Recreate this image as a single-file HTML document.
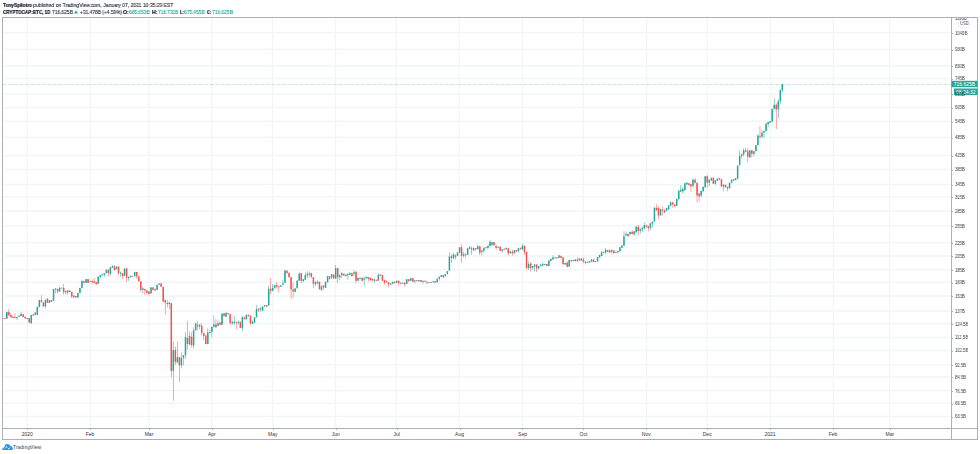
<!DOCTYPE html>
<html><head><meta charset="utf-8"><style>
html,body{margin:0;padding:0;background:#fff;width:980px;height:454px;overflow:hidden;position:relative}
svg text{font-family:"Liberation Sans",sans-serif}
.hs{will-change:transform}
.hs{position:absolute;font-family:"Liberation Sans",sans-serif;font-size:5.2px;white-space:nowrap;line-height:7px;transform-origin:0 0}
.t{color:#26a69a}
.al{position:absolute;font-family:"Liberation Sans",sans-serif;font-size:4.7px;line-height:5px;color:#363a45;white-space:nowrap;transform:scaleX(0.9);transform-origin:0 0;will-change:transform}
.usd{position:absolute;left:959.6px;top:20.5px;font-family:"Liberation Sans",sans-serif;font-size:4.8px;line-height:5px;color:#4a4e57;transform:scaleX(0.85);transform-origin:0 0;will-change:transform}
.logo{position:absolute;left:2px;top:443px;font-family:"Liberation Sans",sans-serif;font-size:6px;color:#50535e}
</style></head><body>
<svg width="980" height="454" viewBox="0 0 980 454" style="position:absolute;left:0;top:0"><line x1="27.5" y1="17.5" x2="27.5" y2="428.5" stroke="#f1f5f8" stroke-width="1.25"/><line x1="90.5" y1="17.5" x2="90.5" y2="428.5" stroke="#f1f5f8" stroke-width="1.25"/><line x1="148.75" y1="17.5" x2="148.75" y2="428.5" stroke="#f1f5f8" stroke-width="1.25"/><line x1="211.75" y1="17.5" x2="211.75" y2="428.5" stroke="#f1f5f8" stroke-width="1.25"/><line x1="272.5" y1="17.5" x2="272.5" y2="428.5" stroke="#f1f5f8" stroke-width="1.25"/><line x1="335.5" y1="17.5" x2="335.5" y2="428.5" stroke="#f1f5f8" stroke-width="1.25"/><line x1="396.25" y1="17.5" x2="396.25" y2="428.5" stroke="#f1f5f8" stroke-width="1.25"/><line x1="459.5" y1="17.5" x2="459.5" y2="428.5" stroke="#f1f5f8" stroke-width="1.25"/><line x1="522.5" y1="17.5" x2="522.5" y2="428.5" stroke="#f1f5f8" stroke-width="1.25"/><line x1="583.25" y1="17.5" x2="583.25" y2="428.5" stroke="#f1f5f8" stroke-width="1.25"/><line x1="646.75" y1="17.5" x2="646.75" y2="428.5" stroke="#f1f5f8" stroke-width="1.25"/><line x1="707.5" y1="17.5" x2="707.5" y2="428.5" stroke="#f1f5f8" stroke-width="1.25"/><line x1="770.5" y1="17.5" x2="770.5" y2="428.5" stroke="#f1f5f8" stroke-width="1.25"/><line x1="833.25" y1="17.5" x2="833.25" y2="428.5" stroke="#f1f5f8" stroke-width="1.25"/><line x1="889.5" y1="17.5" x2="889.5" y2="428.5" stroke="#f1f5f8" stroke-width="1.25"/><line x1="2.5" y1="32.80" x2="951.5" y2="32.80" stroke="#f1f5f8" stroke-width="1.5"/><line x1="2.5" y1="49.30" x2="951.5" y2="49.30" stroke="#f1f5f8" stroke-width="1.5"/><line x1="2.5" y1="65.90" x2="951.5" y2="65.90" stroke="#f1f5f8" stroke-width="1.5"/><line x1="2.5" y1="78.50" x2="951.5" y2="78.50" stroke="#f1f5f8" stroke-width="1.5"/><line x1="2.5" y1="94.20" x2="951.5" y2="94.20" stroke="#f1f5f8" stroke-width="1.5"/><line x1="2.5" y1="107.60" x2="951.5" y2="107.60" stroke="#f1f5f8" stroke-width="1.5"/><line x1="2.5" y1="121.30" x2="951.5" y2="121.30" stroke="#f1f5f8" stroke-width="1.5"/><line x1="2.5" y1="137.30" x2="951.5" y2="137.30" stroke="#f1f5f8" stroke-width="1.5"/><line x1="2.5" y1="155.50" x2="951.5" y2="155.50" stroke="#f1f5f8" stroke-width="1.5"/><line x1="2.5" y1="169.60" x2="951.5" y2="169.60" stroke="#f1f5f8" stroke-width="1.5"/><line x1="2.5" y1="184.40" x2="951.5" y2="184.40" stroke="#f1f5f8" stroke-width="1.5"/><line x1="2.5" y1="196.80" x2="951.5" y2="196.80" stroke="#f1f5f8" stroke-width="1.5"/><line x1="2.5" y1="210.90" x2="951.5" y2="210.90" stroke="#f1f5f8" stroke-width="1.5"/><line x1="2.5" y1="225.70" x2="951.5" y2="225.70" stroke="#f1f5f8" stroke-width="1.5"/><line x1="2.5" y1="242.70" x2="951.5" y2="242.70" stroke="#f1f5f8" stroke-width="1.5"/><line x1="2.5" y1="255.90" x2="951.5" y2="255.90" stroke="#f1f5f8" stroke-width="1.5"/><line x1="2.5" y1="269.80" x2="951.5" y2="269.80" stroke="#f1f5f8" stroke-width="1.5"/><line x1="2.5" y1="282.30" x2="951.5" y2="282.30" stroke="#f1f5f8" stroke-width="1.5"/><line x1="2.5" y1="296.10" x2="951.5" y2="296.10" stroke="#f1f5f8" stroke-width="1.5"/><line x1="2.5" y1="310.90" x2="951.5" y2="310.90" stroke="#f1f5f8" stroke-width="1.5"/><line x1="2.5" y1="323.80" x2="951.5" y2="323.80" stroke="#f1f5f8" stroke-width="1.5"/><line x1="2.5" y1="337.50" x2="951.5" y2="337.50" stroke="#f1f5f8" stroke-width="1.5"/><line x1="2.5" y1="350.60" x2="951.5" y2="350.60" stroke="#f1f5f8" stroke-width="1.5"/><line x1="2.5" y1="364.70" x2="951.5" y2="364.70" stroke="#f1f5f8" stroke-width="1.5"/><line x1="2.5" y1="377.10" x2="951.5" y2="377.10" stroke="#f1f5f8" stroke-width="1.5"/><line x1="2.5" y1="390.80" x2="951.5" y2="390.80" stroke="#f1f5f8" stroke-width="1.5"/><line x1="2.5" y1="403.20" x2="951.5" y2="403.20" stroke="#f1f5f8" stroke-width="1.5"/><line x1="2.5" y1="416.40" x2="951.5" y2="416.40" stroke="#f1f5f8" stroke-width="1.5"/><rect x="2.55" y="318.11" width="0.5" height="0.50" fill="#26a69a"/><rect x="2.05" y="318.11" width="1.5" height="0.80" fill="#26a69a"/><rect x="4.58" y="318.01" width="0.5" height="0.71" fill="#ef5350"/><rect x="4.08" y="318.01" width="1.5" height="0.80" fill="#ef5350"/><rect x="6.61" y="311.92" width="0.5" height="6.79" fill="#26a69a"/><rect x="6.11" y="311.92" width="1.5" height="6.79" fill="#26a69a"/><rect x="8.64" y="308.88" width="0.5" height="6.59" fill="#ef5350"/><rect x="8.14" y="311.92" width="1.5" height="3.55" fill="#ef5350"/><rect x="10.67" y="312.94" width="0.5" height="5.07" fill="#ef5350"/><rect x="10.17" y="314.97" width="1.5" height="2.03" fill="#ef5350"/><rect x="12.70" y="316.49" width="0.5" height="1.52" fill="#ef5350"/><rect x="12.20" y="316.49" width="1.5" height="1.52" fill="#ef5350"/><rect x="14.73" y="312.94" width="0.5" height="5.57" fill="#ef5350"/><rect x="14.23" y="316.99" width="1.5" height="0.80" fill="#ef5350"/><rect x="16.76" y="316.99" width="0.5" height="3.04" fill="#26a69a"/><rect x="16.26" y="316.99" width="1.5" height="1.01" fill="#26a69a"/><rect x="18.79" y="315.47" width="0.5" height="1.22" fill="#26a69a"/><rect x="18.29" y="315.47" width="1.5" height="1.22" fill="#26a69a"/><rect x="20.82" y="311.92" width="0.5" height="4.05" fill="#26a69a"/><rect x="20.32" y="313.95" width="1.5" height="2.03" fill="#26a69a"/><rect x="22.85" y="314.26" width="0.5" height="2.74" fill="#ef5350"/><rect x="22.35" y="314.26" width="1.5" height="2.74" fill="#ef5350"/><rect x="24.88" y="316.69" width="0.5" height="1.82" fill="#ef5350"/><rect x="24.38" y="316.69" width="1.5" height="1.82" fill="#ef5350"/><rect x="26.91" y="318.01" width="0.5" height="1.01" fill="#26a69a"/><rect x="26.41" y="318.01" width="1.5" height="1.01" fill="#26a69a"/><rect x="28.94" y="318.01" width="0.5" height="4.56" fill="#ef5350"/><rect x="28.44" y="318.01" width="1.5" height="4.56" fill="#ef5350"/><rect x="30.96" y="314.97" width="0.5" height="9.12" fill="#26a69a"/><rect x="30.46" y="314.97" width="1.5" height="8.11" fill="#26a69a"/><rect x="33.00" y="314.46" width="0.5" height="1.22" fill="#26a69a"/><rect x="32.50" y="314.46" width="1.5" height="1.22" fill="#26a69a"/><rect x="35.02" y="312.43" width="0.5" height="2.53" fill="#ef5350"/><rect x="34.52" y="312.43" width="1.5" height="2.53" fill="#ef5350"/><rect x="37.05" y="306.86" width="0.5" height="8.11" fill="#26a69a"/><rect x="36.55" y="306.86" width="1.5" height="8.11" fill="#26a69a"/><rect x="39.09" y="300.07" width="0.5" height="7.09" fill="#26a69a"/><rect x="38.59" y="300.07" width="1.5" height="7.09" fill="#26a69a"/><rect x="41.12" y="295.20" width="0.5" height="7.09" fill="#ef5350"/><rect x="40.62" y="300.27" width="1.5" height="2.03" fill="#ef5350"/><rect x="43.14" y="302.30" width="0.5" height="4.26" fill="#ef5350"/><rect x="42.64" y="302.30" width="1.5" height="4.26" fill="#ef5350"/><rect x="45.17" y="299.76" width="0.5" height="8.61" fill="#26a69a"/><rect x="44.67" y="299.76" width="1.5" height="6.59" fill="#26a69a"/><rect x="47.20" y="298.55" width="0.5" height="4.26" fill="#ef5350"/><rect x="46.70" y="298.55" width="1.5" height="4.26" fill="#ef5350"/><rect x="49.23" y="300.07" width="0.5" height="2.74" fill="#26a69a"/><rect x="48.73" y="300.07" width="1.5" height="2.74" fill="#26a69a"/><rect x="51.27" y="300.07" width="0.5" height="1.72" fill="#ef5350"/><rect x="50.77" y="300.07" width="1.5" height="1.72" fill="#ef5350"/><rect x="53.30" y="288.92" width="0.5" height="11.86" fill="#26a69a"/><rect x="52.80" y="288.92" width="1.5" height="11.86" fill="#26a69a"/><rect x="55.33" y="288.40" width="0.5" height="5.07" fill="#26a69a"/><rect x="54.83" y="288.40" width="1.5" height="1.01" fill="#26a69a"/><rect x="57.35" y="288.91" width="0.5" height="4.56" fill="#ef5350"/><rect x="56.85" y="288.91" width="1.5" height="2.53" fill="#ef5350"/><rect x="59.38" y="286.88" width="0.5" height="5.07" fill="#26a69a"/><rect x="58.88" y="287.90" width="1.5" height="3.55" fill="#26a69a"/><rect x="61.41" y="287.69" width="0.5" height="0.71" fill="#26a69a"/><rect x="60.91" y="287.69" width="1.5" height="0.80" fill="#26a69a"/><rect x="63.45" y="284.15" width="0.5" height="10.34" fill="#ef5350"/><rect x="62.95" y="287.90" width="1.5" height="4.05" fill="#ef5350"/><rect x="65.47" y="290.43" width="0.5" height="4.05" fill="#ef5350"/><rect x="64.97" y="290.94" width="1.5" height="1.52" fill="#ef5350"/><rect x="67.50" y="290.43" width="0.5" height="4.05" fill="#26a69a"/><rect x="67.00" y="290.43" width="1.5" height="2.03" fill="#26a69a"/><rect x="69.53" y="290.43" width="0.5" height="1.52" fill="#ef5350"/><rect x="69.03" y="290.43" width="1.5" height="1.52" fill="#ef5350"/><rect x="71.56" y="291.95" width="0.5" height="6.08" fill="#ef5350"/><rect x="71.06" y="291.95" width="1.5" height="4.56" fill="#ef5350"/><rect x="73.59" y="295.50" width="0.5" height="3.04" fill="#26a69a"/><rect x="73.09" y="295.50" width="1.5" height="1.52" fill="#26a69a"/><rect x="75.62" y="296.01" width="0.5" height="1.52" fill="#ef5350"/><rect x="75.12" y="296.01" width="1.5" height="1.52" fill="#ef5350"/><rect x="77.66" y="292.97" width="0.5" height="4.56" fill="#26a69a"/><rect x="77.16" y="292.97" width="1.5" height="4.56" fill="#26a69a"/><rect x="79.69" y="287.90" width="0.5" height="5.07" fill="#26a69a"/><rect x="79.19" y="287.90" width="1.5" height="5.07" fill="#26a69a"/><rect x="81.72" y="280.80" width="0.5" height="7.09" fill="#26a69a"/><rect x="81.22" y="280.80" width="1.5" height="7.09" fill="#26a69a"/><rect x="83.75" y="281.11" width="0.5" height="1.72" fill="#ef5350"/><rect x="83.25" y="281.11" width="1.5" height="1.72" fill="#ef5350"/><rect x="85.78" y="279.08" width="0.5" height="3.75" fill="#26a69a"/><rect x="85.28" y="279.08" width="1.5" height="3.75" fill="#26a69a"/><rect x="87.80" y="279.08" width="0.5" height="4.26" fill="#ef5350"/><rect x="87.30" y="279.08" width="1.5" height="3.75" fill="#ef5350"/><rect x="89.83" y="281.11" width="0.5" height="0.71" fill="#26a69a"/><rect x="89.33" y="281.11" width="1.5" height="0.80" fill="#26a69a"/><rect x="91.86" y="279.28" width="0.5" height="4.56" fill="#ef5350"/><rect x="91.36" y="281.11" width="1.5" height="1.22" fill="#ef5350"/><rect x="93.89" y="278.07" width="0.5" height="5.27" fill="#ef5350"/><rect x="93.39" y="281.31" width="1.5" height="1.52" fill="#ef5350"/><rect x="95.92" y="282.12" width="0.5" height="3.24" fill="#ef5350"/><rect x="95.42" y="282.12" width="1.5" height="2.03" fill="#ef5350"/><rect x="97.95" y="276.75" width="0.5" height="7.09" fill="#26a69a"/><rect x="97.45" y="276.75" width="1.5" height="7.09" fill="#26a69a"/><rect x="99.98" y="274.72" width="0.5" height="3.55" fill="#26a69a"/><rect x="99.48" y="275.23" width="1.5" height="2.03" fill="#26a69a"/><rect x="102.02" y="274.22" width="0.5" height="1.22" fill="#26a69a"/><rect x="101.52" y="274.22" width="1.5" height="1.22" fill="#26a69a"/><rect x="104.04" y="273.20" width="0.5" height="3.55" fill="#26a69a"/><rect x="103.54" y="273.20" width="1.5" height="1.52" fill="#26a69a"/><rect x="106.07" y="269.66" width="0.5" height="3.55" fill="#26a69a"/><rect x="105.57" y="269.66" width="1.5" height="3.55" fill="#26a69a"/><rect x="108.10" y="269.66" width="0.5" height="6.59" fill="#ef5350"/><rect x="107.60" y="269.66" width="1.5" height="3.55" fill="#ef5350"/><rect x="110.13" y="267.12" width="0.5" height="8.61" fill="#26a69a"/><rect x="109.63" y="267.12" width="1.5" height="6.59" fill="#26a69a"/><rect x="112.16" y="265.07" width="0.5" height="3.04" fill="#26a69a"/><rect x="111.66" y="266.08" width="1.5" height="1.52" fill="#26a69a"/><rect x="114.19" y="265.07" width="0.5" height="5.57" fill="#ef5350"/><rect x="113.69" y="266.59" width="1.5" height="3.55" fill="#ef5350"/><rect x="116.22" y="266.59" width="0.5" height="2.53" fill="#26a69a"/><rect x="115.72" y="266.59" width="1.5" height="2.53" fill="#26a69a"/><rect x="118.25" y="266.59" width="0.5" height="8.61" fill="#ef5350"/><rect x="117.75" y="266.59" width="1.5" height="6.59" fill="#ef5350"/><rect x="120.28" y="271.66" width="0.5" height="5.07" fill="#26a69a"/><rect x="119.78" y="272.67" width="1.5" height="1.01" fill="#26a69a"/><rect x="122.31" y="272.97" width="0.5" height="6.28" fill="#ef5350"/><rect x="121.81" y="272.97" width="1.5" height="3.24" fill="#ef5350"/><rect x="124.34" y="268.11" width="0.5" height="8.11" fill="#26a69a"/><rect x="123.84" y="268.61" width="1.5" height="7.09" fill="#26a69a"/><rect x="126.37" y="267.60" width="0.5" height="14.19" fill="#ef5350"/><rect x="125.87" y="268.61" width="1.5" height="9.12" fill="#ef5350"/><rect x="128.40" y="276.72" width="0.5" height="4.05" fill="#26a69a"/><rect x="127.90" y="276.72" width="1.5" height="1.52" fill="#26a69a"/><rect x="130.44" y="275.71" width="0.5" height="1.52" fill="#26a69a"/><rect x="129.94" y="275.71" width="1.5" height="1.52" fill="#26a69a"/><rect x="132.46" y="276.01" width="0.5" height="0.71" fill="#ef5350"/><rect x="131.96" y="276.01" width="1.5" height="0.80" fill="#ef5350"/><rect x="134.50" y="271.96" width="0.5" height="4.26" fill="#26a69a"/><rect x="134.00" y="271.96" width="1.5" height="4.26" fill="#26a69a"/><rect x="136.52" y="271.96" width="0.5" height="6.79" fill="#ef5350"/><rect x="136.02" y="271.96" width="1.5" height="4.26" fill="#ef5350"/><rect x="138.56" y="276.22" width="0.5" height="5.07" fill="#ef5350"/><rect x="138.06" y="276.22" width="1.5" height="5.07" fill="#ef5350"/><rect x="140.58" y="281.28" width="0.5" height="10.64" fill="#ef5350"/><rect x="140.08" y="281.28" width="1.5" height="8.61" fill="#ef5350"/><rect x="142.62" y="286.86" width="0.5" height="6.59" fill="#26a69a"/><rect x="142.12" y="288.38" width="1.5" height="1.52" fill="#26a69a"/><rect x="144.64" y="288.88" width="0.5" height="6.08" fill="#ef5350"/><rect x="144.14" y="288.88" width="1.5" height="1.52" fill="#ef5350"/><rect x="146.67" y="290.40" width="0.5" height="3.55" fill="#ef5350"/><rect x="146.17" y="290.40" width="1.5" height="2.53" fill="#ef5350"/><rect x="148.70" y="291.42" width="0.5" height="4.05" fill="#ef5350"/><rect x="148.20" y="291.42" width="1.5" height="2.53" fill="#ef5350"/><rect x="150.73" y="287.36" width="0.5" height="6.08" fill="#26a69a"/><rect x="150.23" y="287.36" width="1.5" height="6.08" fill="#26a69a"/><rect x="152.76" y="287.36" width="0.5" height="2.53" fill="#ef5350"/><rect x="152.26" y="287.36" width="1.5" height="2.53" fill="#ef5350"/><rect x="154.79" y="288.38" width="0.5" height="2.53" fill="#ef5350"/><rect x="154.29" y="289.19" width="1.5" height="1.22" fill="#ef5350"/><rect x="156.82" y="284.83" width="0.5" height="5.07" fill="#26a69a"/><rect x="156.32" y="284.83" width="1.5" height="5.07" fill="#26a69a"/><rect x="158.85" y="283.51" width="0.5" height="1.32" fill="#26a69a"/><rect x="158.35" y="283.51" width="1.5" height="1.32" fill="#26a69a"/><rect x="160.88" y="283.31" width="0.5" height="3.55" fill="#ef5350"/><rect x="160.38" y="283.31" width="1.5" height="3.55" fill="#ef5350"/><rect x="162.91" y="286.86" width="0.5" height="14.70" fill="#ef5350"/><rect x="162.41" y="286.86" width="1.5" height="14.70" fill="#ef5350"/><rect x="166.97" y="300.00" width="0.5" height="7.60" fill="#ef5350"/><rect x="166.47" y="303.04" width="1.5" height="1.01" fill="#ef5350"/><rect x="169.00" y="302.03" width="0.5" height="7.09" fill="#26a69a"/><rect x="168.50" y="302.53" width="1.5" height="1.52" fill="#26a69a"/><rect x="171.03" y="303.00" width="0.5" height="74.50" fill="#ef5350"/><rect x="170.53" y="303.00" width="1.5" height="67.90" fill="#ef5350"/><rect x="173.06" y="341.50" width="0.5" height="59.30" fill="#26a69a"/><rect x="172.56" y="350.10" width="1.5" height="20.80" fill="#26a69a"/><rect x="175.09" y="346.59" width="0.5" height="18.24" fill="#ef5350"/><rect x="174.59" y="350.13" width="1.5" height="11.66" fill="#ef5350"/><rect x="177.12" y="341.52" width="0.5" height="21.79" fill="#26a69a"/><rect x="176.62" y="357.23" width="1.5" height="5.07" fill="#26a69a"/><rect x="179.15" y="357.23" width="0.5" height="24.83" fill="#ef5350"/><rect x="178.65" y="357.23" width="1.5" height="8.11" fill="#ef5350"/><rect x="181.18" y="352.16" width="0.5" height="16.22" fill="#26a69a"/><rect x="180.68" y="357.74" width="1.5" height="7.60" fill="#26a69a"/><rect x="183.21" y="355.20" width="0.5" height="10.13" fill="#26a69a"/><rect x="182.71" y="355.20" width="1.5" height="2.53" fill="#26a69a"/><rect x="185.24" y="332.00" width="0.5" height="27.00" fill="#26a69a"/><rect x="184.74" y="337.00" width="1.5" height="18.20" fill="#26a69a"/><rect x="187.27" y="320.80" width="0.5" height="28.80" fill="#26a69a"/><rect x="186.77" y="338.00" width="1.5" height="6.00" fill="#26a69a"/><rect x="189.30" y="331.40" width="0.5" height="13.20" fill="#ef5350"/><rect x="188.80" y="336.00" width="1.5" height="8.60" fill="#ef5350"/><rect x="191.33" y="332.40" width="0.5" height="15.20" fill="#ef5350"/><rect x="190.83" y="337.00" width="1.5" height="8.00" fill="#ef5350"/><rect x="193.36" y="327.40" width="0.5" height="21.20" fill="#26a69a"/><rect x="192.86" y="330.40" width="1.5" height="15.20" fill="#26a69a"/><rect x="195.39" y="323.31" width="0.5" height="7.09" fill="#26a69a"/><rect x="194.89" y="323.31" width="1.5" height="7.09" fill="#26a69a"/><rect x="197.42" y="320.78" width="0.5" height="9.63" fill="#ef5350"/><rect x="196.92" y="324.83" width="1.5" height="1.52" fill="#ef5350"/><rect x="199.45" y="324.32" width="0.5" height="5.07" fill="#26a69a"/><rect x="198.95" y="324.83" width="1.5" height="1.52" fill="#26a69a"/><rect x="201.48" y="323.31" width="0.5" height="12.16" fill="#ef5350"/><rect x="200.98" y="325.84" width="1.5" height="7.09" fill="#ef5350"/><rect x="203.51" y="332.94" width="0.5" height="7.60" fill="#ef5350"/><rect x="203.01" y="332.94" width="1.5" height="3.04" fill="#ef5350"/><rect x="205.54" y="335.47" width="0.5" height="8.61" fill="#ef5350"/><rect x="205.04" y="335.47" width="1.5" height="8.61" fill="#ef5350"/><rect x="207.57" y="328.38" width="0.5" height="15.71" fill="#26a69a"/><rect x="207.07" y="332.43" width="1.5" height="11.66" fill="#26a69a"/><rect x="209.60" y="329.90" width="0.5" height="3.55" fill="#26a69a"/><rect x="209.10" y="331.92" width="1.5" height="1.01" fill="#26a69a"/><rect x="211.63" y="326.86" width="0.5" height="10.64" fill="#26a69a"/><rect x="211.13" y="326.86" width="1.5" height="5.07" fill="#26a69a"/><rect x="213.66" y="315.20" width="0.5" height="12.67" fill="#26a69a"/><rect x="213.16" y="324.32" width="1.5" height="2.53" fill="#26a69a"/><rect x="215.69" y="319.26" width="0.5" height="8.11" fill="#ef5350"/><rect x="215.19" y="324.32" width="1.5" height="3.04" fill="#ef5350"/><rect x="217.72" y="320.27" width="0.5" height="6.08" fill="#26a69a"/><rect x="217.22" y="323.31" width="1.5" height="2.53" fill="#26a69a"/><rect x="219.75" y="322.30" width="0.5" height="2.53" fill="#ef5350"/><rect x="219.25" y="322.30" width="1.5" height="2.53" fill="#ef5350"/><rect x="221.78" y="313.68" width="0.5" height="11.15" fill="#26a69a"/><rect x="221.28" y="313.68" width="1.5" height="11.15" fill="#26a69a"/><rect x="223.81" y="313.18" width="0.5" height="3.04" fill="#ef5350"/><rect x="223.31" y="313.18" width="1.5" height="3.04" fill="#ef5350"/><rect x="225.84" y="312.72" width="0.5" height="4.05" fill="#26a69a"/><rect x="225.34" y="312.72" width="1.5" height="4.05" fill="#26a69a"/><rect x="227.87" y="313.23" width="0.5" height="1.01" fill="#ef5350"/><rect x="227.37" y="313.23" width="1.5" height="1.01" fill="#ef5350"/><rect x="229.90" y="314.24" width="0.5" height="10.64" fill="#ef5350"/><rect x="229.40" y="314.24" width="1.5" height="8.61" fill="#ef5350"/><rect x="231.93" y="320.32" width="0.5" height="4.56" fill="#26a69a"/><rect x="231.43" y="321.84" width="1.5" height="1.52" fill="#26a69a"/><rect x="233.96" y="316.27" width="0.5" height="8.61" fill="#26a69a"/><rect x="233.46" y="321.84" width="1.5" height="1.01" fill="#26a69a"/><rect x="235.99" y="321.34" width="0.5" height="7.60" fill="#ef5350"/><rect x="235.49" y="322.15" width="1.5" height="0.80" fill="#ef5350"/><rect x="238.02" y="320.32" width="0.5" height="4.05" fill="#26a69a"/><rect x="237.52" y="321.84" width="1.5" height="1.01" fill="#26a69a"/><rect x="240.05" y="321.84" width="0.5" height="6.08" fill="#ef5350"/><rect x="239.55" y="321.84" width="1.5" height="6.08" fill="#ef5350"/><rect x="242.08" y="315.76" width="0.5" height="15.20" fill="#26a69a"/><rect x="241.58" y="317.28" width="1.5" height="10.64" fill="#26a69a"/><rect x="244.11" y="317.28" width="0.5" height="2.03" fill="#ef5350"/><rect x="243.61" y="317.28" width="1.5" height="2.03" fill="#ef5350"/><rect x="246.14" y="314.75" width="0.5" height="4.56" fill="#26a69a"/><rect x="245.64" y="314.75" width="1.5" height="4.56" fill="#26a69a"/><rect x="248.17" y="314.75" width="0.5" height="1.52" fill="#ef5350"/><rect x="247.67" y="314.75" width="1.5" height="1.52" fill="#ef5350"/><rect x="250.20" y="314.75" width="0.5" height="10.13" fill="#ef5350"/><rect x="249.70" y="316.27" width="1.5" height="7.09" fill="#ef5350"/><rect x="252.23" y="320.32" width="0.5" height="4.05" fill="#26a69a"/><rect x="251.73" y="321.84" width="1.5" height="2.03" fill="#26a69a"/><rect x="254.26" y="317.28" width="0.5" height="5.57" fill="#26a69a"/><rect x="253.76" y="317.28" width="1.5" height="5.57" fill="#26a69a"/><rect x="256.29" y="305.12" width="0.5" height="12.16" fill="#26a69a"/><rect x="255.79" y="309.18" width="1.5" height="8.11" fill="#26a69a"/><rect x="258.32" y="308.16" width="0.5" height="4.05" fill="#ef5350"/><rect x="257.82" y="308.67" width="1.5" height="1.52" fill="#ef5350"/><rect x="260.36" y="306.64" width="0.5" height="5.07" fill="#26a69a"/><rect x="259.86" y="308.16" width="1.5" height="1.01" fill="#26a69a"/><rect x="262.38" y="306.13" width="0.5" height="4.56" fill="#26a69a"/><rect x="261.88" y="306.64" width="1.5" height="4.05" fill="#26a69a"/><rect x="264.41" y="305.12" width="0.5" height="1.52" fill="#26a69a"/><rect x="263.91" y="305.12" width="1.5" height="1.52" fill="#26a69a"/><rect x="266.44" y="305.12" width="0.5" height="2.53" fill="#ef5350"/><rect x="265.94" y="305.12" width="1.5" height="1.01" fill="#ef5350"/><rect x="268.47" y="285.71" width="0.5" height="19.76" fill="#26a69a"/><rect x="267.97" y="288.75" width="1.5" height="16.72" fill="#26a69a"/><rect x="270.50" y="278.11" width="0.5" height="16.22" fill="#ef5350"/><rect x="270.00" y="288.75" width="1.5" height="2.03" fill="#ef5350"/><rect x="272.53" y="284.19" width="0.5" height="7.09" fill="#26a69a"/><rect x="272.03" y="287.74" width="1.5" height="3.04" fill="#26a69a"/><rect x="274.56" y="285.20" width="0.5" height="3.55" fill="#26a69a"/><rect x="274.06" y="285.20" width="1.5" height="2.53" fill="#26a69a"/><rect x="276.59" y="282.16" width="0.5" height="7.09" fill="#ef5350"/><rect x="276.09" y="285.20" width="1.5" height="1.52" fill="#ef5350"/><rect x="278.62" y="286.32" width="0.5" height="6.08" fill="#ef5350"/><rect x="278.12" y="286.32" width="1.5" height="1.01" fill="#ef5350"/><rect x="280.65" y="285.31" width="0.5" height="1.52" fill="#26a69a"/><rect x="280.15" y="285.31" width="1.5" height="1.52" fill="#26a69a"/><rect x="282.68" y="279.74" width="0.5" height="5.57" fill="#26a69a"/><rect x="282.18" y="283.28" width="1.5" height="1.52" fill="#26a69a"/><rect x="284.72" y="269.60" width="0.5" height="13.18" fill="#26a69a"/><rect x="284.22" y="270.61" width="1.5" height="12.16" fill="#26a69a"/><rect x="286.75" y="270.61" width="0.5" height="2.53" fill="#ef5350"/><rect x="286.25" y="270.61" width="1.5" height="2.53" fill="#ef5350"/><rect x="288.77" y="272.13" width="0.5" height="5.07" fill="#ef5350"/><rect x="288.27" y="273.15" width="1.5" height="4.05" fill="#ef5350"/><rect x="290.80" y="277.20" width="0.5" height="22.30" fill="#ef5350"/><rect x="290.30" y="277.20" width="1.5" height="12.16" fill="#ef5350"/><rect x="292.83" y="282.27" width="0.5" height="15.71" fill="#ef5350"/><rect x="292.33" y="289.36" width="1.5" height="2.03" fill="#ef5350"/><rect x="294.87" y="288.35" width="0.5" height="3.55" fill="#26a69a"/><rect x="294.37" y="288.35" width="1.5" height="3.55" fill="#26a69a"/><rect x="296.89" y="279.74" width="0.5" height="8.61" fill="#26a69a"/><rect x="296.39" y="280.75" width="1.5" height="7.60" fill="#26a69a"/><rect x="298.92" y="271.63" width="0.5" height="9.12" fill="#26a69a"/><rect x="298.42" y="273.66" width="1.5" height="7.09" fill="#26a69a"/><rect x="300.95" y="273.15" width="0.5" height="10.13" fill="#ef5350"/><rect x="300.45" y="273.15" width="1.5" height="7.60" fill="#ef5350"/><rect x="302.99" y="279.23" width="0.5" height="2.03" fill="#26a69a"/><rect x="302.49" y="279.23" width="1.5" height="2.03" fill="#26a69a"/><rect x="305.01" y="272.13" width="0.5" height="7.60" fill="#26a69a"/><rect x="304.51" y="275.18" width="1.5" height="4.56" fill="#26a69a"/><rect x="307.04" y="271.12" width="0.5" height="7.09" fill="#26a69a"/><rect x="306.54" y="274.16" width="1.5" height="1.52" fill="#26a69a"/><rect x="309.07" y="271.63" width="0.5" height="6.08" fill="#26a69a"/><rect x="308.57" y="273.15" width="1.5" height="1.52" fill="#26a69a"/><rect x="311.11" y="272.64" width="0.5" height="5.57" fill="#ef5350"/><rect x="310.61" y="273.15" width="1.5" height="3.55" fill="#ef5350"/><rect x="313.13" y="277.20" width="0.5" height="11.15" fill="#ef5350"/><rect x="312.63" y="277.20" width="1.5" height="6.59" fill="#ef5350"/><rect x="315.16" y="280.75" width="0.5" height="5.57" fill="#26a69a"/><rect x="314.66" y="282.27" width="1.5" height="2.03" fill="#26a69a"/><rect x="317.19" y="280.24" width="0.5" height="4.05" fill="#26a69a"/><rect x="316.69" y="281.76" width="1.5" height="1.52" fill="#26a69a"/><rect x="319.23" y="281.76" width="0.5" height="7.60" fill="#ef5350"/><rect x="318.73" y="281.76" width="1.5" height="7.60" fill="#ef5350"/><rect x="321.25" y="285.31" width="0.5" height="5.57" fill="#26a69a"/><rect x="320.75" y="286.32" width="1.5" height="3.55" fill="#26a69a"/><rect x="323.28" y="285.31" width="0.5" height="4.56" fill="#ef5350"/><rect x="322.78" y="285.31" width="1.5" height="2.03" fill="#ef5350"/><rect x="325.31" y="281.76" width="0.5" height="6.08" fill="#26a69a"/><rect x="324.81" y="281.76" width="1.5" height="6.08" fill="#26a69a"/><rect x="327.35" y="276.19" width="0.5" height="6.08" fill="#26a69a"/><rect x="326.85" y="276.19" width="1.5" height="6.08" fill="#26a69a"/><rect x="329.38" y="276.19" width="0.5" height="3.55" fill="#ef5350"/><rect x="328.88" y="276.19" width="1.5" height="2.53" fill="#ef5350"/><rect x="331.40" y="274.16" width="0.5" height="5.07" fill="#26a69a"/><rect x="330.90" y="274.16" width="1.5" height="3.04" fill="#26a69a"/><rect x="333.43" y="274.16" width="0.5" height="5.07" fill="#ef5350"/><rect x="332.93" y="274.67" width="1.5" height="3.55" fill="#ef5350"/><rect x="335.46" y="265.04" width="0.5" height="13.68" fill="#26a69a"/><rect x="334.96" y="268.08" width="1.5" height="10.64" fill="#26a69a"/><rect x="337.50" y="268.08" width="0.5" height="14.70" fill="#ef5350"/><rect x="337.00" y="268.08" width="1.5" height="9.12" fill="#ef5350"/><rect x="339.52" y="274.16" width="0.5" height="5.57" fill="#26a69a"/><rect x="339.02" y="275.18" width="1.5" height="2.03" fill="#26a69a"/><rect x="341.55" y="272.13" width="0.5" height="6.08" fill="#26a69a"/><rect x="341.05" y="273.15" width="1.5" height="2.03" fill="#26a69a"/><rect x="343.58" y="273.66" width="0.5" height="2.03" fill="#ef5350"/><rect x="343.08" y="273.66" width="1.5" height="2.03" fill="#ef5350"/><rect x="345.62" y="274.67" width="0.5" height="1.52" fill="#26a69a"/><rect x="345.12" y="274.67" width="1.5" height="1.52" fill="#26a69a"/><rect x="347.64" y="273.66" width="0.5" height="6.08" fill="#26a69a"/><rect x="347.14" y="273.66" width="1.5" height="1.52" fill="#26a69a"/><rect x="349.67" y="272.13" width="0.5" height="3.04" fill="#26a69a"/><rect x="349.17" y="273.15" width="1.5" height="1.52" fill="#26a69a"/><rect x="351.70" y="273.15" width="0.5" height="3.04" fill="#ef5350"/><rect x="351.20" y="273.15" width="1.5" height="3.04" fill="#ef5350"/><rect x="353.74" y="270.11" width="0.5" height="6.08" fill="#26a69a"/><rect x="353.24" y="272.13" width="1.5" height="1.52" fill="#26a69a"/><rect x="355.76" y="271.63" width="0.5" height="11.66" fill="#ef5350"/><rect x="355.26" y="271.63" width="1.5" height="9.12" fill="#ef5350"/><rect x="357.79" y="277.71" width="0.5" height="3.04" fill="#26a69a"/><rect x="357.29" y="277.71" width="1.5" height="3.04" fill="#26a69a"/><rect x="359.82" y="277.71" width="0.5" height="1.01" fill="#26a69a"/><rect x="359.32" y="277.71" width="1.5" height="1.01" fill="#26a69a"/><rect x="361.86" y="277.71" width="0.5" height="3.55" fill="#ef5350"/><rect x="361.36" y="277.71" width="1.5" height="3.04" fill="#ef5350"/><rect x="363.88" y="276.19" width="0.5" height="10.13" fill="#26a69a"/><rect x="363.38" y="278.22" width="1.5" height="1.52" fill="#26a69a"/><rect x="365.91" y="276.19" width="0.5" height="3.04" fill="#26a69a"/><rect x="365.41" y="277.00" width="1.5" height="1.22" fill="#26a69a"/><rect x="367.94" y="277.00" width="0.5" height="4.26" fill="#ef5350"/><rect x="367.44" y="277.00" width="1.5" height="1.72" fill="#ef5350"/><rect x="369.98" y="277.71" width="0.5" height="2.53" fill="#ef5350"/><rect x="369.48" y="277.71" width="1.5" height="2.53" fill="#ef5350"/><rect x="372.00" y="278.72" width="0.5" height="2.53" fill="#ef5350"/><rect x="371.50" y="278.72" width="1.5" height="1.52" fill="#ef5350"/><rect x="374.03" y="279.23" width="0.5" height="3.55" fill="#26a69a"/><rect x="373.53" y="279.23" width="1.5" height="1.52" fill="#26a69a"/><rect x="376.06" y="279.74" width="0.5" height="1.01" fill="#ef5350"/><rect x="375.56" y="279.74" width="1.5" height="1.01" fill="#ef5350"/><rect x="378.09" y="273.15" width="0.5" height="7.60" fill="#26a69a"/><rect x="377.59" y="274.67" width="1.5" height="6.08" fill="#26a69a"/><rect x="380.12" y="274.16" width="0.5" height="2.03" fill="#ef5350"/><rect x="379.62" y="274.67" width="1.5" height="1.01" fill="#ef5350"/><rect x="382.15" y="275.18" width="0.5" height="5.57" fill="#ef5350"/><rect x="381.65" y="275.18" width="1.5" height="5.57" fill="#ef5350"/><rect x="384.18" y="279.74" width="0.5" height="5.07" fill="#ef5350"/><rect x="383.68" y="280.24" width="1.5" height="2.53" fill="#ef5350"/><rect x="386.21" y="280.75" width="0.5" height="2.53" fill="#ef5350"/><rect x="385.71" y="280.75" width="1.5" height="1.01" fill="#ef5350"/><rect x="388.25" y="282.27" width="0.5" height="5.07" fill="#ef5350"/><rect x="387.75" y="282.27" width="1.5" height="2.03" fill="#ef5350"/><rect x="390.27" y="283.28" width="0.5" height="1.52" fill="#26a69a"/><rect x="389.77" y="283.28" width="1.5" height="1.52" fill="#26a69a"/><rect x="392.30" y="281.76" width="0.5" height="2.03" fill="#26a69a"/><rect x="391.80" y="281.76" width="1.5" height="2.03" fill="#26a69a"/><rect x="394.33" y="281.76" width="0.5" height="1.52" fill="#ef5350"/><rect x="393.83" y="281.76" width="1.5" height="1.52" fill="#ef5350"/><rect x="396.37" y="280.75" width="0.5" height="2.03" fill="#26a69a"/><rect x="395.87" y="280.75" width="1.5" height="2.03" fill="#26a69a"/><rect x="398.39" y="280.75" width="0.5" height="5.07" fill="#ef5350"/><rect x="397.89" y="280.75" width="1.5" height="2.53" fill="#ef5350"/><rect x="400.42" y="282.78" width="0.5" height="1.52" fill="#ef5350"/><rect x="399.92" y="282.78" width="1.5" height="1.01" fill="#ef5350"/><rect x="402.45" y="282.78" width="0.5" height="1.01" fill="#26a69a"/><rect x="401.95" y="282.78" width="1.5" height="1.01" fill="#26a69a"/><rect x="404.49" y="282.27" width="0.5" height="4.05" fill="#ef5350"/><rect x="403.99" y="282.78" width="1.5" height="1.52" fill="#ef5350"/><rect x="406.51" y="279.23" width="0.5" height="4.56" fill="#26a69a"/><rect x="406.01" y="279.23" width="1.5" height="4.56" fill="#26a69a"/><rect x="408.54" y="279.23" width="0.5" height="2.03" fill="#ef5350"/><rect x="408.04" y="279.23" width="1.5" height="2.03" fill="#ef5350"/><rect x="410.57" y="278.22" width="0.5" height="2.53" fill="#26a69a"/><rect x="410.07" y="278.22" width="1.5" height="2.53" fill="#26a69a"/><rect x="412.61" y="278.22" width="0.5" height="4.05" fill="#ef5350"/><rect x="412.11" y="278.22" width="1.5" height="3.55" fill="#ef5350"/><rect x="414.63" y="280.24" width="0.5" height="3.55" fill="#26a69a"/><rect x="414.13" y="280.24" width="1.5" height="1.01" fill="#26a69a"/><rect x="416.66" y="280.24" width="0.5" height="1.01" fill="#ef5350"/><rect x="416.16" y="280.24" width="1.5" height="1.01" fill="#ef5350"/><rect x="418.69" y="280.04" width="0.5" height="1.22" fill="#26a69a"/><rect x="418.19" y="280.04" width="1.5" height="1.22" fill="#26a69a"/><rect x="420.72" y="280.04" width="0.5" height="1.72" fill="#ef5350"/><rect x="420.22" y="280.04" width="1.5" height="1.72" fill="#ef5350"/><rect x="422.75" y="280.75" width="0.5" height="3.04" fill="#26a69a"/><rect x="422.25" y="280.75" width="1.5" height="1.01" fill="#26a69a"/><rect x="424.78" y="280.75" width="0.5" height="1.01" fill="#ef5350"/><rect x="424.28" y="280.75" width="1.5" height="1.01" fill="#ef5350"/><rect x="426.81" y="281.76" width="0.5" height="2.53" fill="#ef5350"/><rect x="426.31" y="281.76" width="1.5" height="1.01" fill="#ef5350"/><rect x="428.84" y="282.27" width="0.5" height="0.51" fill="#26a69a"/><rect x="428.34" y="282.27" width="1.5" height="0.80" fill="#26a69a"/><rect x="430.88" y="282.07" width="0.5" height="0.71" fill="#26a69a"/><rect x="430.38" y="282.07" width="1.5" height="0.80" fill="#26a69a"/><rect x="432.90" y="281.26" width="0.5" height="1.01" fill="#26a69a"/><rect x="432.40" y="281.26" width="1.5" height="1.01" fill="#26a69a"/><rect x="434.93" y="281.26" width="0.5" height="1.52" fill="#ef5350"/><rect x="434.43" y="281.26" width="1.5" height="1.52" fill="#ef5350"/><rect x="436.96" y="278.72" width="0.5" height="3.55" fill="#26a69a"/><rect x="436.46" y="278.72" width="1.5" height="3.55" fill="#26a69a"/><rect x="439.00" y="276.70" width="0.5" height="4.05" fill="#26a69a"/><rect x="438.50" y="276.70" width="1.5" height="2.03" fill="#26a69a"/><rect x="441.02" y="275.18" width="0.5" height="1.82" fill="#26a69a"/><rect x="440.52" y="275.18" width="1.5" height="1.82" fill="#26a69a"/><rect x="443.05" y="274.97" width="0.5" height="3.24" fill="#ef5350"/><rect x="442.55" y="274.97" width="1.5" height="2.23" fill="#ef5350"/><rect x="445.08" y="274.16" width="0.5" height="2.03" fill="#26a69a"/><rect x="444.58" y="274.16" width="1.5" height="2.03" fill="#26a69a"/><rect x="447.12" y="271.12" width="0.5" height="3.04" fill="#26a69a"/><rect x="446.62" y="271.12" width="1.5" height="3.04" fill="#26a69a"/><rect x="451.17" y="254.32" width="0.5" height="8.61" fill="#ef5350"/><rect x="450.67" y="256.35" width="1.5" height="1.52" fill="#ef5350"/><rect x="453.20" y="252.80" width="0.5" height="6.59" fill="#26a69a"/><rect x="452.70" y="254.32" width="1.5" height="4.05" fill="#26a69a"/><rect x="455.24" y="254.32" width="0.5" height="5.07" fill="#26a69a"/><rect x="454.74" y="255.34" width="1.5" height="1.52" fill="#26a69a"/><rect x="457.26" y="252.30" width="0.5" height="3.55" fill="#26a69a"/><rect x="456.76" y="252.30" width="1.5" height="3.55" fill="#26a69a"/><rect x="459.29" y="247.23" width="0.5" height="5.57" fill="#26a69a"/><rect x="458.79" y="247.23" width="1.5" height="5.57" fill="#26a69a"/><rect x="461.32" y="244.19" width="0.5" height="18.75" fill="#ef5350"/><rect x="460.82" y="247.23" width="1.5" height="8.61" fill="#ef5350"/><rect x="463.35" y="251.79" width="0.5" height="5.57" fill="#26a69a"/><rect x="462.85" y="254.32" width="1.5" height="1.52" fill="#26a69a"/><rect x="465.38" y="253.31" width="0.5" height="4.56" fill="#ef5350"/><rect x="464.88" y="254.32" width="1.5" height="1.01" fill="#ef5350"/><rect x="467.41" y="248.24" width="0.5" height="6.59" fill="#26a69a"/><rect x="466.91" y="248.24" width="1.5" height="6.59" fill="#26a69a"/><rect x="469.44" y="246.22" width="0.5" height="3.04" fill="#26a69a"/><rect x="468.94" y="247.23" width="1.5" height="1.52" fill="#26a69a"/><rect x="471.47" y="246.22" width="0.5" height="8.61" fill="#ef5350"/><rect x="470.97" y="248.24" width="1.5" height="1.52" fill="#ef5350"/><rect x="473.50" y="247.23" width="0.5" height="3.55" fill="#26a69a"/><rect x="473.00" y="248.24" width="1.5" height="2.03" fill="#26a69a"/><rect x="475.53" y="248.04" width="0.5" height="2.74" fill="#ef5350"/><rect x="475.03" y="248.04" width="1.5" height="1.22" fill="#ef5350"/><rect x="477.56" y="244.70" width="0.5" height="4.56" fill="#26a69a"/><rect x="477.06" y="246.22" width="1.5" height="3.04" fill="#26a69a"/><rect x="479.59" y="246.22" width="0.5" height="9.12" fill="#ef5350"/><rect x="479.09" y="246.22" width="1.5" height="6.59" fill="#ef5350"/><rect x="481.62" y="250.27" width="0.5" height="5.07" fill="#26a69a"/><rect x="481.12" y="250.27" width="1.5" height="1.52" fill="#26a69a"/><rect x="483.65" y="247.74" width="0.5" height="5.57" fill="#26a69a"/><rect x="483.15" y="247.74" width="1.5" height="3.04" fill="#26a69a"/><rect x="485.68" y="247.23" width="0.5" height="1.01" fill="#ef5350"/><rect x="485.18" y="247.23" width="1.5" height="1.01" fill="#ef5350"/><rect x="487.71" y="245.71" width="0.5" height="2.53" fill="#26a69a"/><rect x="487.21" y="245.71" width="1.5" height="2.53" fill="#26a69a"/><rect x="489.75" y="240.13" width="0.5" height="6.08" fill="#26a69a"/><rect x="489.25" y="241.66" width="1.5" height="4.56" fill="#26a69a"/><rect x="491.77" y="242.16" width="0.5" height="3.04" fill="#26a69a"/><rect x="491.27" y="242.16" width="1.5" height="3.04" fill="#26a69a"/><rect x="493.80" y="242.16" width="0.5" height="3.55" fill="#ef5350"/><rect x="493.30" y="242.16" width="1.5" height="3.04" fill="#ef5350"/><rect x="495.83" y="245.71" width="0.5" height="4.05" fill="#ef5350"/><rect x="495.33" y="245.71" width="1.5" height="2.03" fill="#ef5350"/><rect x="497.87" y="246.72" width="0.5" height="1.01" fill="#26a69a"/><rect x="497.37" y="246.72" width="1.5" height="1.01" fill="#26a69a"/><rect x="499.89" y="246.72" width="0.5" height="4.05" fill="#ef5350"/><rect x="499.39" y="246.72" width="1.5" height="4.05" fill="#ef5350"/><rect x="501.92" y="249.26" width="0.5" height="3.55" fill="#26a69a"/><rect x="501.42" y="249.26" width="1.5" height="1.52" fill="#26a69a"/><rect x="503.95" y="248.75" width="0.5" height="1.01" fill="#ef5350"/><rect x="503.45" y="248.75" width="1.5" height="1.01" fill="#ef5350"/><rect x="505.98" y="247.74" width="0.5" height="1.52" fill="#26a69a"/><rect x="505.48" y="247.74" width="1.5" height="1.52" fill="#26a69a"/><rect x="508.01" y="248.24" width="0.5" height="7.09" fill="#ef5350"/><rect x="507.51" y="248.24" width="1.5" height="5.07" fill="#ef5350"/><rect x="510.04" y="251.31" width="0.5" height="2.03" fill="#26a69a"/><rect x="509.54" y="251.31" width="1.5" height="2.03" fill="#26a69a"/><rect x="512.07" y="249.79" width="0.5" height="5.57" fill="#ef5350"/><rect x="511.57" y="251.82" width="1.5" height="1.52" fill="#ef5350"/><rect x="514.10" y="250.30" width="0.5" height="3.04" fill="#26a69a"/><rect x="513.60" y="250.30" width="1.5" height="3.04" fill="#26a69a"/><rect x="516.13" y="250.09" width="0.5" height="1.72" fill="#ef5350"/><rect x="515.63" y="250.09" width="1.5" height="1.72" fill="#ef5350"/><rect x="518.16" y="248.27" width="0.5" height="3.04" fill="#26a69a"/><rect x="517.66" y="248.27" width="1.5" height="3.04" fill="#26a69a"/><rect x="520.19" y="247.76" width="0.5" height="1.52" fill="#ef5350"/><rect x="519.69" y="247.76" width="1.5" height="1.52" fill="#ef5350"/><rect x="522.22" y="243.71" width="0.5" height="6.59" fill="#26a69a"/><rect x="521.72" y="245.74" width="1.5" height="3.55" fill="#26a69a"/><rect x="524.25" y="245.74" width="0.5" height="9.12" fill="#ef5350"/><rect x="523.75" y="245.74" width="1.5" height="6.59" fill="#ef5350"/><rect x="526.28" y="251.82" width="0.5" height="17.74" fill="#ef5350"/><rect x="525.78" y="251.82" width="1.5" height="16.22" fill="#ef5350"/><rect x="528.31" y="261.44" width="0.5" height="8.61" fill="#26a69a"/><rect x="527.81" y="263.98" width="1.5" height="4.05" fill="#26a69a"/><rect x="530.34" y="262.46" width="0.5" height="9.12" fill="#ef5350"/><rect x="529.84" y="263.47" width="1.5" height="4.56" fill="#ef5350"/><rect x="532.38" y="266.01" width="0.5" height="3.55" fill="#26a69a"/><rect x="531.88" y="266.01" width="1.5" height="2.03" fill="#26a69a"/><rect x="534.40" y="263.98" width="0.5" height="7.60" fill="#26a69a"/><rect x="533.90" y="264.49" width="1.5" height="2.03" fill="#26a69a"/><rect x="536.43" y="264.49" width="0.5" height="7.60" fill="#ef5350"/><rect x="535.93" y="264.49" width="1.5" height="4.05" fill="#ef5350"/><rect x="538.46" y="266.01" width="0.5" height="3.55" fill="#26a69a"/><rect x="537.96" y="266.01" width="1.5" height="2.03" fill="#26a69a"/><rect x="540.49" y="264.49" width="0.5" height="1.52" fill="#26a69a"/><rect x="539.99" y="264.49" width="1.5" height="1.52" fill="#26a69a"/><rect x="542.52" y="262.46" width="0.5" height="4.05" fill="#26a69a"/><rect x="542.02" y="263.98" width="1.5" height="1.52" fill="#26a69a"/><rect x="544.55" y="263.98" width="0.5" height="1.01" fill="#26a69a"/><rect x="544.05" y="263.98" width="1.5" height="1.01" fill="#26a69a"/><rect x="546.58" y="263.98" width="0.5" height="2.03" fill="#ef5350"/><rect x="546.08" y="263.98" width="1.5" height="2.03" fill="#ef5350"/><rect x="548.61" y="260.43" width="0.5" height="5.57" fill="#26a69a"/><rect x="548.11" y="260.43" width="1.5" height="5.57" fill="#26a69a"/><rect x="550.64" y="258.40" width="0.5" height="3.04" fill="#26a69a"/><rect x="550.14" y="258.91" width="1.5" height="2.03" fill="#26a69a"/><rect x="552.67" y="255.36" width="0.5" height="4.05" fill="#26a69a"/><rect x="552.17" y="257.39" width="1.5" height="2.03" fill="#26a69a"/><rect x="554.70" y="257.39" width="0.5" height="1.01" fill="#ef5350"/><rect x="554.20" y="257.39" width="1.5" height="1.01" fill="#ef5350"/><rect x="556.73" y="257.39" width="0.5" height="1.01" fill="#ef5350"/><rect x="556.23" y="257.39" width="1.5" height="1.01" fill="#ef5350"/><rect x="558.76" y="254.86" width="0.5" height="3.04" fill="#26a69a"/><rect x="558.26" y="255.36" width="1.5" height="2.53" fill="#26a69a"/><rect x="560.79" y="255.87" width="0.5" height="2.03" fill="#ef5350"/><rect x="560.29" y="255.87" width="1.5" height="2.03" fill="#ef5350"/><rect x="562.82" y="257.39" width="0.5" height="8.11" fill="#ef5350"/><rect x="562.32" y="257.39" width="1.5" height="6.59" fill="#ef5350"/><rect x="564.85" y="262.97" width="0.5" height="1.52" fill="#26a69a"/><rect x="564.35" y="262.97" width="1.5" height="1.52" fill="#26a69a"/><rect x="566.88" y="261.53" width="0.5" height="6.08" fill="#ef5350"/><rect x="566.38" y="262.54" width="1.5" height="4.05" fill="#ef5350"/><rect x="568.91" y="260.01" width="0.5" height="6.59" fill="#26a69a"/><rect x="568.41" y="260.01" width="1.5" height="6.59" fill="#26a69a"/><rect x="570.94" y="260.01" width="0.5" height="2.53" fill="#ef5350"/><rect x="570.44" y="260.01" width="1.5" height="0.80" fill="#ef5350"/><rect x="572.97" y="260.01" width="0.5" height="1.01" fill="#26a69a"/><rect x="572.47" y="260.01" width="1.5" height="1.01" fill="#26a69a"/><rect x="575.00" y="258.99" width="0.5" height="2.53" fill="#26a69a"/><rect x="574.50" y="259.50" width="1.5" height="1.52" fill="#26a69a"/><rect x="577.03" y="256.97" width="0.5" height="4.56" fill="#ef5350"/><rect x="576.53" y="259.50" width="1.5" height="1.52" fill="#ef5350"/><rect x="579.06" y="258.49" width="0.5" height="2.03" fill="#26a69a"/><rect x="578.56" y="258.49" width="1.5" height="2.03" fill="#26a69a"/><rect x="581.09" y="257.98" width="0.5" height="3.04" fill="#ef5350"/><rect x="580.59" y="258.49" width="1.5" height="2.03" fill="#ef5350"/><rect x="583.12" y="257.47" width="0.5" height="6.08" fill="#ef5350"/><rect x="582.62" y="259.50" width="1.5" height="2.03" fill="#ef5350"/><rect x="585.15" y="261.02" width="0.5" height="3.55" fill="#ef5350"/><rect x="584.65" y="261.53" width="1.5" height="1.01" fill="#ef5350"/><rect x="587.18" y="262.03" width="0.5" height="1.01" fill="#26a69a"/><rect x="586.68" y="262.03" width="1.5" height="1.01" fill="#26a69a"/><rect x="589.21" y="261.02" width="0.5" height="1.52" fill="#26a69a"/><rect x="588.71" y="261.02" width="1.5" height="1.52" fill="#26a69a"/><rect x="591.24" y="258.99" width="0.5" height="3.04" fill="#26a69a"/><rect x="590.74" y="259.50" width="1.5" height="2.03" fill="#26a69a"/><rect x="593.27" y="259.50" width="0.5" height="2.53" fill="#ef5350"/><rect x="592.77" y="259.50" width="1.5" height="2.53" fill="#ef5350"/><rect x="595.30" y="261.02" width="0.5" height="1.01" fill="#26a69a"/><rect x="594.80" y="261.02" width="1.5" height="1.01" fill="#26a69a"/><rect x="597.33" y="256.97" width="0.5" height="5.07" fill="#26a69a"/><rect x="596.83" y="256.97" width="1.5" height="4.05" fill="#26a69a"/><rect x="599.36" y="254.94" width="0.5" height="2.53" fill="#26a69a"/><rect x="598.86" y="254.94" width="1.5" height="2.53" fill="#26a69a"/><rect x="601.39" y="250.88" width="0.5" height="5.07" fill="#26a69a"/><rect x="600.89" y="252.40" width="1.5" height="3.55" fill="#26a69a"/><rect x="603.42" y="251.90" width="0.5" height="1.01" fill="#26a69a"/><rect x="602.92" y="251.90" width="1.5" height="1.01" fill="#26a69a"/><rect x="605.45" y="247.84" width="0.5" height="6.59" fill="#26a69a"/><rect x="604.95" y="249.87" width="1.5" height="2.53" fill="#26a69a"/><rect x="607.48" y="250.17" width="0.5" height="1.72" fill="#ef5350"/><rect x="606.98" y="250.17" width="1.5" height="1.72" fill="#ef5350"/><rect x="609.51" y="249.36" width="0.5" height="4.05" fill="#ef5350"/><rect x="609.01" y="250.38" width="1.5" height="2.03" fill="#ef5350"/><rect x="611.54" y="249.36" width="0.5" height="4.05" fill="#26a69a"/><rect x="611.04" y="250.38" width="1.5" height="1.52" fill="#26a69a"/><rect x="613.57" y="250.38" width="0.5" height="3.55" fill="#ef5350"/><rect x="613.07" y="250.38" width="1.5" height="2.53" fill="#ef5350"/><rect x="615.60" y="251.90" width="0.5" height="1.01" fill="#26a69a"/><rect x="615.10" y="251.90" width="1.5" height="1.01" fill="#26a69a"/><rect x="617.63" y="250.88" width="0.5" height="1.52" fill="#26a69a"/><rect x="617.13" y="250.88" width="1.5" height="1.52" fill="#26a69a"/><rect x="619.66" y="246.32" width="0.5" height="5.07" fill="#26a69a"/><rect x="619.16" y="247.34" width="1.5" height="4.05" fill="#26a69a"/><rect x="621.69" y="244.30" width="0.5" height="3.55" fill="#26a69a"/><rect x="621.19" y="245.82" width="1.5" height="2.03" fill="#26a69a"/><rect x="623.72" y="231.12" width="0.5" height="14.70" fill="#26a69a"/><rect x="623.22" y="236.19" width="1.5" height="9.63" fill="#26a69a"/><rect x="625.75" y="231.35" width="0.5" height="4.56" fill="#26a69a"/><rect x="625.25" y="233.88" width="1.5" height="1.52" fill="#26a69a"/><rect x="627.78" y="233.88" width="0.5" height="2.53" fill="#ef5350"/><rect x="627.28" y="233.88" width="1.5" height="2.53" fill="#ef5350"/><rect x="629.81" y="231.86" width="0.5" height="2.53" fill="#26a69a"/><rect x="629.31" y="231.86" width="1.5" height="2.53" fill="#26a69a"/><rect x="631.84" y="229.83" width="0.5" height="4.56" fill="#ef5350"/><rect x="631.34" y="231.86" width="1.5" height="2.03" fill="#ef5350"/><rect x="633.87" y="231.35" width="0.5" height="4.56" fill="#26a69a"/><rect x="633.37" y="231.35" width="1.5" height="3.04" fill="#26a69a"/><rect x="635.90" y="225.78" width="0.5" height="6.59" fill="#26a69a"/><rect x="635.40" y="226.79" width="1.5" height="5.57" fill="#26a69a"/><rect x="637.93" y="224.76" width="0.5" height="10.13" fill="#ef5350"/><rect x="637.43" y="226.79" width="1.5" height="4.05" fill="#ef5350"/><rect x="639.96" y="228.82" width="0.5" height="4.56" fill="#26a69a"/><rect x="639.46" y="228.82" width="1.5" height="2.03" fill="#26a69a"/><rect x="641.99" y="226.79" width="0.5" height="5.57" fill="#26a69a"/><rect x="641.49" y="227.80" width="1.5" height="1.52" fill="#26a69a"/><rect x="644.02" y="222.74" width="0.5" height="6.59" fill="#26a69a"/><rect x="643.52" y="225.27" width="1.5" height="3.04" fill="#26a69a"/><rect x="646.05" y="224.76" width="0.5" height="2.53" fill="#ef5350"/><rect x="645.55" y="225.27" width="1.5" height="1.52" fill="#ef5350"/><rect x="648.08" y="226.28" width="0.5" height="5.07" fill="#ef5350"/><rect x="647.58" y="226.28" width="1.5" height="2.03" fill="#ef5350"/><rect x="650.11" y="223.24" width="0.5" height="7.09" fill="#26a69a"/><rect x="649.61" y="223.24" width="1.5" height="4.56" fill="#26a69a"/><rect x="652.14" y="221.72" width="0.5" height="6.08" fill="#26a69a"/><rect x="651.64" y="221.72" width="1.5" height="2.03" fill="#26a69a"/><rect x="654.17" y="206.86" width="0.5" height="14.70" fill="#26a69a"/><rect x="653.67" y="207.87" width="1.5" height="13.68" fill="#26a69a"/><rect x="656.20" y="204.32" width="0.5" height="6.08" fill="#ef5350"/><rect x="655.70" y="207.87" width="1.5" height="2.53" fill="#ef5350"/><rect x="658.23" y="206.35" width="0.5" height="13.18" fill="#ef5350"/><rect x="657.73" y="207.87" width="1.5" height="7.60" fill="#ef5350"/><rect x="660.26" y="208.88" width="0.5" height="6.59" fill="#26a69a"/><rect x="659.76" y="208.88" width="1.5" height="6.59" fill="#26a69a"/><rect x="662.29" y="206.35" width="0.5" height="9.12" fill="#ef5350"/><rect x="661.79" y="209.90" width="1.5" height="0.80" fill="#ef5350"/><rect x="664.32" y="209.39" width="0.5" height="3.55" fill="#ef5350"/><rect x="663.82" y="210.40" width="1.5" height="2.03" fill="#ef5350"/><rect x="666.35" y="207.87" width="0.5" height="3.04" fill="#26a69a"/><rect x="665.85" y="207.87" width="1.5" height="3.04" fill="#26a69a"/><rect x="668.38" y="205.34" width="0.5" height="4.05" fill="#26a69a"/><rect x="667.88" y="205.34" width="1.5" height="4.05" fill="#26a69a"/><rect x="670.41" y="201.28" width="0.5" height="4.56" fill="#26a69a"/><rect x="669.91" y="202.30" width="1.5" height="3.55" fill="#26a69a"/><rect x="672.44" y="201.79" width="0.5" height="5.57" fill="#ef5350"/><rect x="671.94" y="202.30" width="1.5" height="2.03" fill="#ef5350"/><rect x="674.47" y="204.32" width="0.5" height="2.03" fill="#ef5350"/><rect x="673.97" y="204.32" width="1.5" height="2.03" fill="#ef5350"/><rect x="676.50" y="198.75" width="0.5" height="7.09" fill="#26a69a"/><rect x="676.00" y="198.75" width="1.5" height="7.09" fill="#26a69a"/><rect x="678.53" y="190.64" width="0.5" height="8.61" fill="#26a69a"/><rect x="678.03" y="190.64" width="1.5" height="8.61" fill="#26a69a"/><rect x="680.56" y="185.07" width="0.5" height="6.59" fill="#26a69a"/><rect x="680.06" y="189.63" width="1.5" height="2.03" fill="#26a69a"/><rect x="682.59" y="187.31" width="0.5" height="6.59" fill="#26a69a"/><rect x="682.09" y="188.83" width="1.5" height="2.53" fill="#26a69a"/><rect x="684.62" y="183.26" width="0.5" height="7.09" fill="#26a69a"/><rect x="684.12" y="183.26" width="1.5" height="7.09" fill="#26a69a"/><rect x="686.65" y="181.74" width="0.5" height="3.55" fill="#26a69a"/><rect x="686.15" y="182.75" width="1.5" height="1.52" fill="#26a69a"/><rect x="688.68" y="183.26" width="0.5" height="2.03" fill="#ef5350"/><rect x="688.18" y="183.26" width="1.5" height="2.03" fill="#ef5350"/><rect x="690.71" y="184.27" width="0.5" height="7.60" fill="#ef5350"/><rect x="690.21" y="184.27" width="1.5" height="2.03" fill="#ef5350"/><rect x="692.74" y="178.19" width="0.5" height="9.63" fill="#26a69a"/><rect x="692.24" y="179.71" width="1.5" height="6.08" fill="#26a69a"/><rect x="694.77" y="178.19" width="0.5" height="5.07" fill="#ef5350"/><rect x="694.27" y="179.71" width="1.5" height="3.04" fill="#ef5350"/><rect x="696.80" y="182.75" width="0.5" height="19.76" fill="#ef5350"/><rect x="696.30" y="182.75" width="1.5" height="12.67" fill="#ef5350"/><rect x="698.83" y="193.39" width="0.5" height="8.11" fill="#ef5350"/><rect x="698.33" y="193.39" width="1.5" height="3.04" fill="#ef5350"/><rect x="700.86" y="190.86" width="0.5" height="6.59" fill="#26a69a"/><rect x="700.36" y="190.86" width="1.5" height="4.56" fill="#26a69a"/><rect x="702.89" y="186.80" width="0.5" height="4.56" fill="#26a69a"/><rect x="702.39" y="186.80" width="1.5" height="4.56" fill="#26a69a"/><rect x="704.92" y="176.16" width="0.5" height="11.15" fill="#26a69a"/><rect x="704.42" y="176.16" width="1.5" height="11.15" fill="#26a69a"/><rect x="706.95" y="175.15" width="0.5" height="12.67" fill="#ef5350"/><rect x="706.45" y="176.16" width="1.5" height="6.59" fill="#ef5350"/><rect x="708.98" y="179.20" width="0.5" height="7.09" fill="#26a69a"/><rect x="708.48" y="179.71" width="1.5" height="3.04" fill="#26a69a"/><rect x="711.01" y="177.18" width="0.5" height="4.05" fill="#26a69a"/><rect x="710.51" y="178.19" width="1.5" height="2.03" fill="#26a69a"/><rect x="713.04" y="177.68" width="0.5" height="6.08" fill="#ef5350"/><rect x="712.54" y="177.68" width="1.5" height="6.08" fill="#ef5350"/><rect x="715.07" y="180.22" width="0.5" height="4.56" fill="#26a69a"/><rect x="714.57" y="180.22" width="1.5" height="3.55" fill="#26a69a"/><rect x="717.10" y="178.70" width="0.5" height="2.03" fill="#26a69a"/><rect x="716.60" y="178.70" width="1.5" height="2.03" fill="#26a69a"/><rect x="719.13" y="178.19" width="0.5" height="1.52" fill="#ef5350"/><rect x="718.63" y="178.19" width="1.5" height="1.52" fill="#ef5350"/><rect x="721.16" y="179.20" width="0.5" height="8.11" fill="#ef5350"/><rect x="720.66" y="179.20" width="1.5" height="7.09" fill="#ef5350"/><rect x="723.19" y="184.27" width="0.5" height="7.09" fill="#26a69a"/><rect x="722.69" y="184.78" width="1.5" height="2.03" fill="#26a69a"/><rect x="725.22" y="184.78" width="0.5" height="2.53" fill="#ef5350"/><rect x="724.72" y="184.78" width="1.5" height="2.53" fill="#ef5350"/><rect x="727.25" y="186.80" width="0.5" height="4.56" fill="#ef5350"/><rect x="726.75" y="186.80" width="1.5" height="1.52" fill="#ef5350"/><rect x="729.28" y="182.75" width="0.5" height="5.57" fill="#26a69a"/><rect x="728.78" y="182.75" width="1.5" height="5.57" fill="#26a69a"/><rect x="731.31" y="179.20" width="0.5" height="4.05" fill="#26a69a"/><rect x="730.81" y="180.22" width="1.5" height="2.53" fill="#26a69a"/><rect x="733.34" y="179.20" width="0.5" height="1.52" fill="#26a69a"/><rect x="732.84" y="179.20" width="1.5" height="1.52" fill="#26a69a"/><rect x="735.37" y="178.19" width="0.5" height="2.03" fill="#26a69a"/><rect x="734.87" y="178.19" width="1.5" height="2.03" fill="#26a69a"/><rect x="739.43" y="150.27" width="0.5" height="15.20" fill="#26a69a"/><rect x="738.93" y="155.84" width="1.5" height="9.12" fill="#26a69a"/><rect x="741.46" y="153.82" width="0.5" height="4.56" fill="#26a69a"/><rect x="740.96" y="153.82" width="1.5" height="2.03" fill="#26a69a"/><rect x="743.49" y="148.24" width="0.5" height="8.11" fill="#26a69a"/><rect x="742.99" y="150.27" width="1.5" height="4.05" fill="#26a69a"/><rect x="745.52" y="147.74" width="0.5" height="4.56" fill="#ef5350"/><rect x="745.02" y="150.27" width="1.5" height="1.52" fill="#ef5350"/><rect x="747.55" y="148.24" width="0.5" height="13.68" fill="#ef5350"/><rect x="747.05" y="151.28" width="1.5" height="5.57" fill="#ef5350"/><rect x="749.58" y="150.27" width="0.5" height="8.11" fill="#26a69a"/><rect x="749.08" y="150.27" width="1.5" height="7.09" fill="#26a69a"/><rect x="751.61" y="150.27" width="0.5" height="7.09" fill="#ef5350"/><rect x="751.11" y="150.27" width="1.5" height="3.55" fill="#ef5350"/><rect x="753.64" y="151.28" width="0.5" height="5.07" fill="#26a69a"/><rect x="753.14" y="151.28" width="1.5" height="2.53" fill="#26a69a"/><rect x="755.67" y="145.20" width="0.5" height="6.08" fill="#26a69a"/><rect x="755.17" y="145.20" width="1.5" height="6.08" fill="#26a69a"/><rect x="757.70" y="134.05" width="0.5" height="11.15" fill="#26a69a"/><rect x="757.20" y="135.57" width="1.5" height="9.63" fill="#26a69a"/><rect x="759.73" y="126.11" width="0.5" height="13.18" fill="#ef5350"/><rect x="759.23" y="135.74" width="1.5" height="1.01" fill="#ef5350"/><rect x="761.76" y="130.16" width="0.5" height="8.11" fill="#26a69a"/><rect x="761.26" y="132.70" width="1.5" height="4.05" fill="#26a69a"/><rect x="763.79" y="130.16" width="0.5" height="8.11" fill="#26a69a"/><rect x="763.29" y="131.18" width="1.5" height="1.52" fill="#26a69a"/><rect x="765.82" y="123.57" width="0.5" height="7.60" fill="#26a69a"/><rect x="765.32" y="123.57" width="1.5" height="7.60" fill="#26a69a"/><rect x="767.85" y="121.55" width="0.5" height="5.57" fill="#26a69a"/><rect x="767.35" y="122.05" width="1.5" height="2.03" fill="#26a69a"/><rect x="769.88" y="121.04" width="0.5" height="1.52" fill="#26a69a"/><rect x="769.38" y="121.04" width="1.5" height="1.52" fill="#26a69a"/><rect x="771.91" y="108.88" width="0.5" height="12.67" fill="#26a69a"/><rect x="771.41" y="108.88" width="1.5" height="12.67" fill="#26a69a"/><rect x="773.94" y="98.24" width="0.5" height="10.64" fill="#26a69a"/><rect x="773.44" y="104.83" width="1.5" height="4.05" fill="#26a69a"/><rect x="775.97" y="103.31" width="0.5" height="25.74" fill="#ef5350"/><rect x="775.47" y="104.83" width="1.5" height="4.56" fill="#ef5350"/><rect x="778.00" y="99.26" width="0.5" height="19.26" fill="#26a69a"/><rect x="777.50" y="101.28" width="1.5" height="8.11" fill="#26a69a"/><rect x="780.03" y="89.12" width="0.5" height="14.70" fill="#26a69a"/><rect x="779.53" y="90.13" width="1.5" height="11.15" fill="#26a69a"/><rect x="782.06" y="84.05" width="0.5" height="8.61" fill="#26a69a"/><rect x="781.56" y="84.05" width="1.5" height="6.08" fill="#26a69a"/><rect x="737.40" y="165.52" width="0.5" height="13.18" fill="#26a69a"/><rect x="736.90" y="165.52" width="1.5" height="13.18" fill="#26a69a"/><rect x="164.94" y="299.50" width="0.5" height="15.50" fill="#ef5350"/><rect x="164.44" y="300.00" width="1.5" height="2.60" fill="#ef5350"/><rect x="449.14" y="252.00" width="0.5" height="18.50" fill="#26a69a"/><rect x="448.64" y="256.50" width="1.5" height="14.00" fill="#26a69a"/><line x1="2.5" y1="84.5" x2="951.5" y2="84.5" stroke="#26a69a" stroke-width="1" stroke-dasharray="4,1.6" opacity="0.25"/><rect x="2.5" y="17.5" width="975.0" height="422.0" fill="none" stroke="#acafb6" stroke-width="1"/><line x1="951.5" y1="17.5" x2="951.5" y2="439.5" stroke="#acafb6" stroke-width="1"/><line x1="2.5" y1="428.5" x2="977.5" y2="428.5" stroke="#acafb6" stroke-width="1"/><line x1="27.5" y1="428.5" x2="27.5" y2="430.0" stroke="#acafb6" stroke-width="1"/><line x1="90.5" y1="428.5" x2="90.5" y2="430.0" stroke="#acafb6" stroke-width="1"/><line x1="149.5" y1="428.5" x2="149.5" y2="430.0" stroke="#acafb6" stroke-width="1"/><line x1="212.5" y1="428.5" x2="212.5" y2="430.0" stroke="#acafb6" stroke-width="1"/><line x1="273.5" y1="428.5" x2="273.5" y2="430.0" stroke="#acafb6" stroke-width="1"/><line x1="336.5" y1="428.5" x2="336.5" y2="430.0" stroke="#acafb6" stroke-width="1"/><line x1="397.5" y1="428.5" x2="397.5" y2="430.0" stroke="#acafb6" stroke-width="1"/><line x1="460.5" y1="428.5" x2="460.5" y2="430.0" stroke="#acafb6" stroke-width="1"/><line x1="522.5" y1="428.5" x2="522.5" y2="430.0" stroke="#acafb6" stroke-width="1"/><line x1="583.5" y1="428.5" x2="583.5" y2="430.0" stroke="#acafb6" stroke-width="1"/><line x1="646.5" y1="428.5" x2="646.5" y2="430.0" stroke="#acafb6" stroke-width="1"/><line x1="707.5" y1="428.5" x2="707.5" y2="430.0" stroke="#acafb6" stroke-width="1"/><line x1="770.5" y1="428.5" x2="770.5" y2="430.0" stroke="#acafb6" stroke-width="1"/><line x1="833.5" y1="428.5" x2="833.5" y2="430.0" stroke="#acafb6" stroke-width="1"/><line x1="890.5" y1="428.5" x2="890.5" y2="430.0" stroke="#acafb6" stroke-width="1"/><line x1="951.5" y1="33.5" x2="953.0" y2="33.5" stroke="#acafb6" stroke-width="1"/><line x1="951.5" y1="50.5" x2="953.0" y2="50.5" stroke="#acafb6" stroke-width="1"/><line x1="951.5" y1="66.5" x2="953.0" y2="66.5" stroke="#acafb6" stroke-width="1"/><line x1="951.5" y1="79.5" x2="953.0" y2="79.5" stroke="#acafb6" stroke-width="1"/><line x1="951.5" y1="94.5" x2="953.0" y2="94.5" stroke="#acafb6" stroke-width="1"/><line x1="951.5" y1="108.5" x2="953.0" y2="108.5" stroke="#acafb6" stroke-width="1"/><line x1="951.5" y1="122.5" x2="953.0" y2="122.5" stroke="#acafb6" stroke-width="1"/><line x1="951.5" y1="138.5" x2="953.0" y2="138.5" stroke="#acafb6" stroke-width="1"/><line x1="951.5" y1="156.5" x2="953.0" y2="156.5" stroke="#acafb6" stroke-width="1"/><line x1="951.5" y1="170.5" x2="953.0" y2="170.5" stroke="#acafb6" stroke-width="1"/><line x1="951.5" y1="185.5" x2="953.0" y2="185.5" stroke="#acafb6" stroke-width="1"/><line x1="951.5" y1="197.5" x2="953.0" y2="197.5" stroke="#acafb6" stroke-width="1"/><line x1="951.5" y1="211.5" x2="953.0" y2="211.5" stroke="#acafb6" stroke-width="1"/><line x1="951.5" y1="226.5" x2="953.0" y2="226.5" stroke="#acafb6" stroke-width="1"/><line x1="951.5" y1="243.5" x2="953.0" y2="243.5" stroke="#acafb6" stroke-width="1"/><line x1="951.5" y1="256.5" x2="953.0" y2="256.5" stroke="#acafb6" stroke-width="1"/><line x1="951.5" y1="270.5" x2="953.0" y2="270.5" stroke="#acafb6" stroke-width="1"/><line x1="951.5" y1="283.5" x2="953.0" y2="283.5" stroke="#acafb6" stroke-width="1"/><line x1="951.5" y1="296.5" x2="953.0" y2="296.5" stroke="#acafb6" stroke-width="1"/><line x1="951.5" y1="311.5" x2="953.0" y2="311.5" stroke="#acafb6" stroke-width="1"/><line x1="951.5" y1="324.5" x2="953.0" y2="324.5" stroke="#acafb6" stroke-width="1"/><line x1="951.5" y1="338.5" x2="953.0" y2="338.5" stroke="#acafb6" stroke-width="1"/><line x1="951.5" y1="351.5" x2="953.0" y2="351.5" stroke="#acafb6" stroke-width="1"/><line x1="951.5" y1="365.5" x2="953.0" y2="365.5" stroke="#acafb6" stroke-width="1"/><line x1="951.5" y1="377.5" x2="953.0" y2="377.5" stroke="#acafb6" stroke-width="1"/><line x1="951.5" y1="391.5" x2="953.0" y2="391.5" stroke="#acafb6" stroke-width="1"/><line x1="951.5" y1="404.5" x2="953.0" y2="404.5" stroke="#acafb6" stroke-width="1"/><line x1="951.5" y1="417.5" x2="953.0" y2="417.5" stroke="#acafb6" stroke-width="1"/><text x="27.2" y="436.3" font-size="5" text-anchor="middle" fill="#2f333e">2020</text><text x="90.1" y="436.3" font-size="5" text-anchor="middle" fill="#2f333e">Feb</text><text x="149.0" y="436.3" font-size="5" text-anchor="middle" fill="#2f333e">Mar</text><text x="211.9" y="436.3" font-size="5" text-anchor="middle" fill="#2f333e">Apr</text><text x="272.8" y="436.3" font-size="5" text-anchor="middle" fill="#2f333e">May</text><text x="335.7" y="436.3" font-size="5" text-anchor="middle" fill="#2f333e">Jun</text><text x="396.6" y="436.3" font-size="5" text-anchor="middle" fill="#2f333e">Jul</text><text x="459.5" y="436.3" font-size="5" text-anchor="middle" fill="#2f333e">Aug</text><text x="522.5" y="436.3" font-size="5" text-anchor="middle" fill="#2f333e">Sep</text><text x="583.4" y="436.3" font-size="5" text-anchor="middle" fill="#2f333e">Oct</text><text x="646.3" y="436.3" font-size="5" text-anchor="middle" fill="#2f333e">Nov</text><text x="707.2" y="436.3" font-size="5" text-anchor="middle" fill="#2f333e">Dec</text><text x="770.1" y="436.3" font-size="5" text-anchor="middle" fill="#2f333e">2021</text><text x="833.1" y="436.3" font-size="5" text-anchor="middle" fill="#2f333e">Feb</text><text x="889.9" y="436.3" font-size="5" text-anchor="middle" fill="#2f333e">Mar</text><defs><clipPath id="axclip"><rect x="952" y="18" width="25" height="410"/></clipPath></defs><rect x="958.7" y="20.3" width="11" height="7" fill="#fff" stroke="#e0e3eb" stroke-width="0.6" rx="1"/><rect x="951.5" y="80.8" width="26" height="6.4" fill="#26a69a"/><text x="964.5" y="85.8" font-size="5" text-anchor="middle" fill="#fff">716.625B</text><rect x="954" y="88.5" width="23.5" height="6.6" fill="#26a69a"/><text x="965.8" y="93.6" font-size="5" text-anchor="middle" fill="#fff">08:24:32</text></svg>
<div style="position:absolute;left:952px;top:18px;width:25px;height:410px;overflow:hidden"><span class="al" style="left:2.7px;top:-1.6px">1160B</span><span class="al" style="left:2.7px;top:12.60px">1040B</span><span class="al" style="left:2.7px;top:29.10px">930B</span><span class="al" style="left:2.7px;top:45.70px">830B</span><span class="al" style="left:2.7px;top:58.30px">745B</span><span class="al" style="left:2.7px;top:74.00px">665B</span><span class="al" style="left:2.7px;top:87.40px">605B</span><span class="al" style="left:2.7px;top:101.10px">545B</span><span class="al" style="left:2.7px;top:117.10px">485B</span><span class="al" style="left:2.7px;top:135.30px">425B</span><span class="al" style="left:2.7px;top:149.40px">385B</span><span class="al" style="left:2.7px;top:164.20px">345B</span><span class="al" style="left:2.7px;top:176.60px">315B</span><span class="al" style="left:2.7px;top:190.70px">285B</span><span class="al" style="left:2.7px;top:205.50px">255B</span><span class="al" style="left:2.7px;top:222.50px">225B</span><span class="al" style="left:2.7px;top:235.70px">205B</span><span class="al" style="left:2.7px;top:249.60px">185B</span><span class="al" style="left:2.7px;top:262.10px">169B</span><span class="al" style="left:2.7px;top:275.90px">153B</span><span class="al" style="left:2.7px;top:290.70px">137B</span><span class="al" style="left:2.7px;top:303.60px">124.5B</span><span class="al" style="left:2.7px;top:317.30px">112.5B</span><span class="al" style="left:2.7px;top:330.40px">102.5B</span><span class="al" style="left:2.7px;top:344.50px">92.5B</span><span class="al" style="left:2.7px;top:356.90px">84.5B</span><span class="al" style="left:2.7px;top:370.60px">76.5B</span><span class="al" style="left:2.7px;top:383.00px">69.5B</span><span class="al" style="left:2.7px;top:396.20px">63.5B</span></div><span class="hs" id="hs_a" style="left:2.5px;top:2.2px;font-weight:bold;color:#131722;transform:scaleX(0.9143);-webkit-text-stroke:0.2px #131722">TonySpilotro</span><span class="hs" id="hs_b" style="left:33.2px;top:2.2px;font-weight:normal;color:#2a2e39;transform:scaleX(0.9590);-webkit-text-stroke:0.12px #2a2e39">published on TradingView.com, January 07, 2021 10:35:29 EST</span><span class="hs" id="hs_c" style="left:2.6px;top:9.0px;font-weight:bold;color:#131722;transform:scaleX(0.8747);-webkit-text-stroke:0.2px #131722">CRYPTOCAP:BTC, 1D</span><span class="hs" id="hs_d" style="left:52.3px;top:9.0px;font-weight:normal;color:#2a2e39;transform:scaleX(0.9451);-webkit-text-stroke:0.12px #2a2e39">716.625B</span><span class="hs" id="hs_f" style="left:79.7px;top:9.0px;font-weight:normal;color:#2a2e39;transform:scaleX(0.9356);-webkit-text-stroke:0.12px #2a2e39">+31.478B (+4.59%)</span><span class="hs" id="hs_g" style="left:122.6px;top:9.0px;font-weight:bold;color:#131722;transform:scaleX(0.9886);-webkit-text-stroke:0.2px #131722">O:</span><span class="hs" id="hs_h" style="left:129.2px;top:9.0px;font-weight:normal;color:#26a69a;transform:scaleX(0.9361);-webkit-text-stroke:0.12px #26a69a">685.653B</span><span class="hs" id="hs_i" style="left:151.6px;top:9.0px;font-weight:bold;color:#131722;transform:scaleX(0.9846);-webkit-text-stroke:0.2px #131722">H:</span><span class="hs" id="hs_j" style="left:157.6px;top:9.0px;font-weight:normal;color:#26a69a;transform:scaleX(0.9181);-webkit-text-stroke:0.12px #26a69a">718.732B</span><span class="hs" id="hs_k" style="left:180.0px;top:9.0px;font-weight:bold;color:#131722;transform:scaleX(0.7745);-webkit-text-stroke:0.2px #131722">L:</span><span class="hs" id="hs_l" style="left:184.0px;top:9.0px;font-weight:normal;color:#26a69a;transform:scaleX(0.9361);-webkit-text-stroke:0.12px #26a69a">675.455B</span><span class="hs" id="hs_m" style="left:206.7px;top:9.0px;font-weight:bold;color:#131722;transform:scaleX(0.7476);-webkit-text-stroke:0.2px #131722">C:</span><span class="hs" id="hs_n" style="left:211.8px;top:9.0px;font-weight:normal;color:#26a69a;transform:scaleX(0.9496);-webkit-text-stroke:0.12px #26a69a">716.625B</span><svg style="position:absolute;left:74.2px;top:10.2px" width="4" height="4" viewBox="0 0 4 4"><path d="M2 0.3 L3.9 3.6 L0.1 3.6 Z" fill="#26a69a"/></svg><span class="usd">USD</span>
<svg style="position:absolute;left:2px;top:443.8px" width="11" height="6.5" viewBox="0 0 11 6.5"><path d="M1.2 6.2 C0.2 6.2 0 5 0.6 4.2 C1 3.6 1.8 3.4 2.2 3.4 C2.4 1.2 4 0 5.2 0 C6.6 0 7.6 0.8 8 1.8 C9.6 1.8 10.8 3 10.8 4.4 C10.8 5.4 10.2 6.2 9.4 6.2 Z" fill="#2196f3"/><path d="M1.6 5.3 L4.3 2.8 L6.8 4.7 L9.2 2.7" stroke="#cfe6ff" stroke-width="0.45" fill="none"/><circle cx="4.3" cy="2.8" r="0.65" fill="#fff"/><circle cx="6.8" cy="4.7" r="0.65" fill="#fff"/></svg><span class="hs" id="hs_tv" style="left:13.4px;top:444.1px;color:#3b3e46;font-size:5.6px;transform:scaleX(0.9157)">TradingView</span>
</body></html>
